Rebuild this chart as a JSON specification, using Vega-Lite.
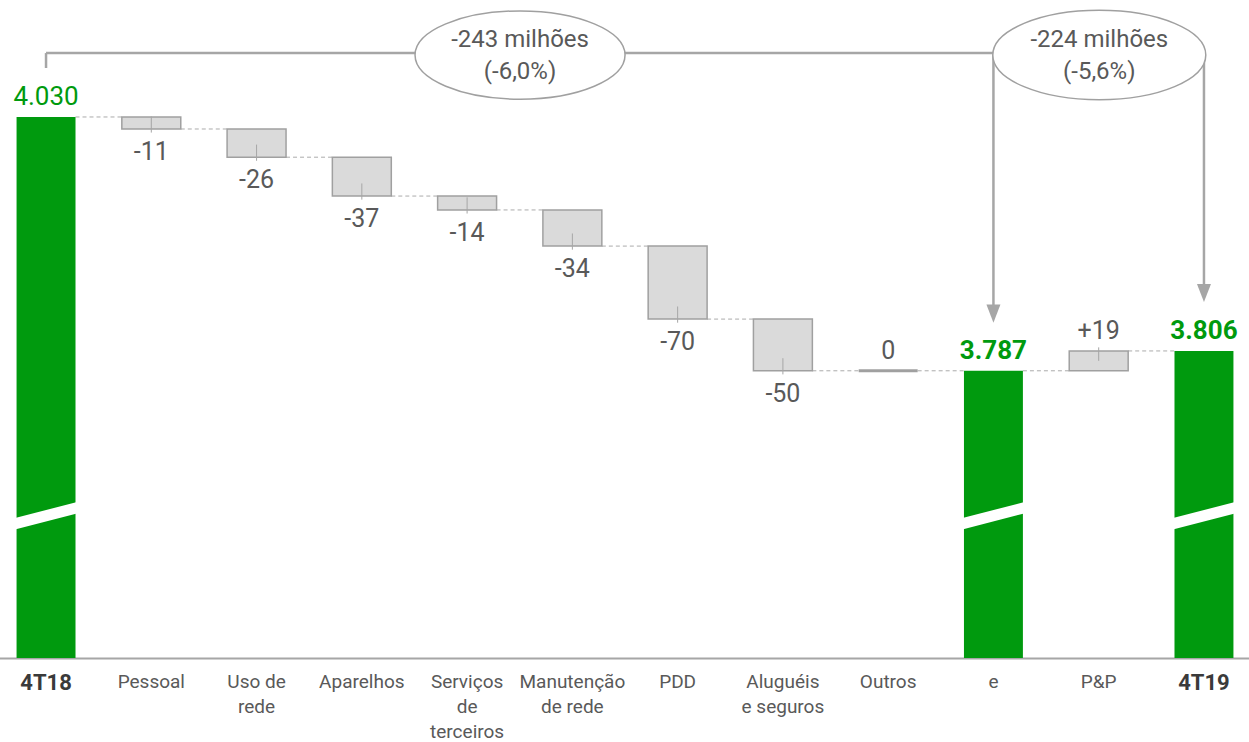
{
  "$schema": "https://vega.github.io/schema/vega-lite/v6.json",
  "width": 1249,
  "height": 742,
  "autosize": {"type": "none"},
  "padding": 0,
  "background": "white",
  "config": {"view": {"stroke": null}, "font": "Roboto"},
  "datasets": {
    "bars": [
      {"cat": "4T18", "kind": "total", "start": 4030, "end": 4030, "text": "4.030", "next": "Pessoal"},
      {"cat": "Pessoal", "kind": "delta", "start": 4030, "end": 4018.5, "text": "-11", "next": "Uso de rede"},
      {"cat": "Uso de rede", "kind": "delta", "start": 4018.5, "end": 3991.5, "text": "-26", "next": "Aparelhos"},
      {"cat": "Aparelhos", "kind": "delta", "start": 3991.5, "end": 3954.3, "text": "-37", "next": "Serviços de terceiros"},
      {"cat": "Serviços de terceiros", "kind": "delta", "start": 3954.3, "end": 3941, "text": "-14", "next": "Manutenção de rede"},
      {"cat": "Manutenção de rede", "kind": "delta", "start": 3941, "end": 3906.4, "text": "-34", "next": "PDD"},
      {"cat": "PDD", "kind": "delta", "start": 3906.4, "end": 3836.5, "text": "-70", "next": "Aluguéis e seguros"},
      {"cat": "Aluguéis e seguros", "kind": "delta", "start": 3836.5, "end": 3787, "text": "-50", "next": "Outros"},
      {"cat": "Outros", "kind": "delta", "start": 3787, "end": 3787, "text": "0", "next": "e"},
      {"cat": "e", "kind": "total", "start": 3787, "end": 3787, "text": "3.787", "next": "P&P"},
      {"cat": "P&P", "kind": "delta", "start": 3787, "end": 3806, "text": "+19", "next": "4T19"},
      {"cat": "4T19", "kind": "total", "start": 3806, "end": 3806, "text": "3.806", "next": null}
    ],
    "notes": [
      {"from": "4T18", "to": "e", "text": "-243 milhões\n(-6,0%)"},
      {"from": "4T18", "to": "4T19", "text": "-224 milhões\n(-5,6%)"}
    ]
  },
  "data": {"name": "bars"},
  "encoding": {
    "x": {
      "field": "cat",
      "type": "nominal",
      "scale": {
        "domain": ["4T18", "Pessoal", "Uso de rede", "Aparelhos", "Serviços de terceiros", "Manutenção de rede", "PDD", "Aluguéis e seguros", "Outros", "e", "P&P", "4T19"],
        "range": [-6.6, 1256.6],
        "paddingInner": 0.44,
        "paddingOuter": 0.22
      },
      "axis": {
        "title": null,
        "labelAngle": 0,
        "ticks": false,
        "grid": false,
        "domainColor": "#a6a6a6",
        "domainWidth": 2,
        "offset": -84,
        "labelPadding": 14,
        "labelFont": "Roboto",
        "labelLimit": 0,
        "labelOverlap": false,
        "labelLineHeight": 25,
        "labelFontSize": {"condition": {"test": "datum.value == '4T18' || datum.value == '4T19'", "value": 22}, "value": 19},
        "labelFontWeight": {"condition": {"test": "datum.value == '4T18' || datum.value == '4T19'", "value": "bold"}, "value": "normal"},
        "labelColor": {"condition": {"test": "datum.value == '4T18' || datum.value == '4T19'", "value": "#3a3a3a"}, "value": "#595959"},
        "labelExpr": "datum.value == 'Uso de rede' ? ['Uso de', 'rede'] : datum.value == 'Serviços de terceiros' ? ['Serviços', 'de', 'terceiros'] : datum.value == 'Manutenção de rede' ? ['Manutenção', 'de rede'] : datum.value == 'Aluguéis e seguros' ? ['Aluguéis', 'e seguros'] : datum.label"
      }
    }
  },
  "layer": [
    {
      "transform": [{"filter": "datum.next != null"}],
      "mark": {"type": "rule", "strokeDash": [4, 3], "color": "#ababab", "strokeWidth": 1},
      "encoding": {
        "x": {"field": "cat", "type": "nominal", "bandPosition": 1},
        "x2": {"field": "next", "bandPosition": 0},
        "y": {"field": "end", "type": "quantitative", "scale": {"domain": [3431.6, 4142], "nice": false, "zero": false}, "axis": null}
      }
    },
    {
      "transform": [{"filter": "datum.kind == 'total'"}],
      "mark": {"type": "bar", "color": "#009a0e"},
      "encoding": {
        "y": {"field": "end", "type": "quantitative", "scale": {"domain": [3431.6, 4142], "nice": false, "zero": false}, "axis": null},
        "y2": {"datum": 3512}
      }
    },
    {
      "transform": [{"filter": "datum.kind == 'delta' && datum.start != datum.end"}],
      "mark": {"type": "bar", "fill": "#dadada", "stroke": "#a0a0a0", "strokeWidth": 1.5},
      "encoding": {
        "y": {"field": "start", "type": "quantitative", "scale": {"domain": [3431.6, 4142], "nice": false, "zero": false}, "axis": null},
        "y2": {"field": "end"}
      }
    },
    {
      "transform": [{"filter": "datum.kind == 'delta' && datum.start == datum.end"}],
      "mark": {"type": "rule", "color": "#a0a0a0", "strokeWidth": 3},
      "encoding": {
        "x": {"field": "cat", "type": "nominal", "bandPosition": 0},
        "x2": {"field": "cat", "bandPosition": 1},
        "y": {"field": "end", "type": "quantitative", "axis": null}
      }
    },
    {
      "transform": [{"filter": "datum.kind == 'delta' && datum.end < datum.start"}],
      "mark": {"type": "point", "shape": "M0,-1.4L0,0.4", "size": 324, "filled": false, "stroke": "#a6a6a6", "strokeWidth": 1, "opacity": 1},
      "encoding": {
        "x": {"field": "cat", "type": "nominal", "bandPosition": 0.5},
        "y": {"field": "end", "type": "quantitative", "axis": null}
      }
    },
    {
      "transform": [{"filter": "datum.kind == 'delta' && datum.end > datum.start"}],
      "mark": {"type": "point", "shape": "M0,-0.4L0,1.1", "size": 324, "filled": false, "stroke": "#a6a6a6", "strokeWidth": 1, "opacity": 1},
      "encoding": {
        "x": {"field": "cat", "type": "nominal", "bandPosition": 0.5},
        "y": {"field": "end", "type": "quantitative", "axis": null}
      }
    },
    {
      "transform": [{"filter": "datum.kind == 'total'"}],
      "mark": {"type": "rule", "color": "white", "strokeWidth": 11},
      "encoding": {
        "x": {"field": "cat", "type": "nominal", "bandPosition": -0.1},
        "x2": {"field": "cat", "bandPosition": 1.1},
        "y": {"datum": 3639.5, "type": "quantitative", "axis": null},
        "y2": {"datum": 3657}
      }
    },
    {
      "transform": [{"filter": "datum.cat == '4T18'"}],
      "mark": {"type": "text", "fontSize": 26, "color": "#009a0e", "baseline": "alphabetic", "dy": -12},
      "encoding": {
        "y": {"field": "end", "type": "quantitative", "axis": null},
        "text": {"field": "text"}
      }
    },
    {
      "transform": [{"filter": "datum.kind == 'total' && datum.cat != '4T18'"}],
      "mark": {"type": "text", "fontSize": 26, "fontWeight": "bold", "color": "#009a0e", "baseline": "alphabetic", "dy": -12},
      "encoding": {
        "y": {"field": "end", "type": "quantitative", "axis": null},
        "text": {"field": "text"}
      }
    },
    {
      "transform": [{"filter": "datum.kind == 'delta' && datum.end < datum.start"}],
      "mark": {"type": "text", "fontSize": 25, "color": "#595959", "baseline": "alphabetic", "dy": 31},
      "encoding": {
        "y": {"field": "end", "type": "quantitative", "axis": null},
        "text": {"field": "text"}
      }
    },
    {
      "transform": [{"filter": "datum.kind == 'delta' && datum.end >= datum.start"}],
      "mark": {"type": "text", "fontSize": 25, "color": "#595959", "baseline": "alphabetic", "dy": -12},
      "encoding": {
        "y": {"field": "end", "type": "quantitative", "axis": null},
        "text": {"field": "text"}
      }
    },
    {
      "data": {"name": "notes"},
      "transform": [{"filter": "datum.to == '4T19'"}],
      "mark": {"type": "rule", "color": "#a6a6a6", "strokeWidth": 2.5},
      "encoding": {
        "x": {"field": "from", "type": "nominal", "bandPosition": 0.5},
        "x2": {"field": "to", "bandPosition": 0.5},
        "y": {"datum": 4091.2, "type": "quantitative", "axis": null}
      }
    },
    {
      "data": {"name": "notes"},
      "transform": [{"filter": "datum.to == '4T19'"}],
      "mark": {"type": "rule", "color": "#a6a6a6", "strokeWidth": 2.5},
      "encoding": {
        "x": {"field": "from", "type": "nominal", "bandPosition": 0.5},
        "y": {"datum": 4091.2, "type": "quantitative", "axis": null},
        "y2": {"datum": 4076.9}
      }
    },
    {
      "data": {"name": "notes"},
      "transform": [{"filter": "datum.to == 'e'"}],
      "mark": {"type": "rule", "color": "#a6a6a6", "strokeWidth": 2.5},
      "encoding": {
        "x": {"field": "to", "type": "nominal", "bandPosition": 0.5},
        "y": {"datum": 4091.2, "type": "quantitative", "axis": null},
        "y2": {"datum": 3841.8}
      }
    },
    {
      "data": {"name": "notes"},
      "transform": [{"filter": "datum.to == '4T19'"}],
      "mark": {"type": "rule", "color": "#a6a6a6", "strokeWidth": 2.5},
      "encoding": {
        "x": {"field": "to", "type": "nominal", "bandPosition": 0.5},
        "y": {"datum": 4091.2, "type": "quantitative", "axis": null},
        "y2": {"datum": 3861.5}
      }
    },
    {
      "data": {"name": "notes"},
      "transform": [{"filter": "datum.to == 'e'"}],
      "mark": {"type": "point", "shape": "M-1,-1.3L1,-1.3L0,1.3Z", "size": 196, "filled": true, "color": "#a6a6a6", "opacity": 1},
      "encoding": {
        "x": {"field": "to", "type": "nominal", "bandPosition": 0.5},
        "y": {"datum": 3841.8, "type": "quantitative", "axis": null}
      }
    },
    {
      "data": {"name": "notes"},
      "transform": [{"filter": "datum.to == '4T19'"}],
      "mark": {"type": "point", "shape": "M-1,-1.3L1,-1.3L0,1.3Z", "size": 196, "filled": true, "color": "#a6a6a6", "opacity": 1},
      "encoding": {
        "x": {"field": "to", "type": "nominal", "bandPosition": 0.5},
        "y": {"datum": 3861.5, "type": "quantitative", "axis": null}
      }
    },
    {
      "data": {"name": "notes"},
      "transform": [{"filter": "datum.to == 'e'"}],
      "mark": {"type": "point", "shape": "M-1,0A1,0.42,0,1,0,1,0A1,0.42,0,1,0,-1,0Z", "size": 44100, "filled": true, "fill": "white", "stroke": "#a0a0a0", "strokeWidth": 1.5, "opacity": 1},
      "encoding": {
        "x": {"datum": "Serviços de terceiros", "type": "nominal", "bandPosition": 1.398},
        "y": {"datum": 4089.3, "type": "quantitative", "axis": null}
      }
    },
    {
      "data": {"name": "notes"},
      "transform": [{"filter": "datum.to == '4T19'"}],
      "mark": {"type": "point", "shape": "M-1,0A1,0.42,0,1,0,1,0A1,0.42,0,1,0,-1,0Z", "size": 45369, "filled": true, "fill": "white", "stroke": "#a0a0a0", "strokeWidth": 1.5, "opacity": 1},
      "encoding": {
        "x": {"datum": "P&P", "type": "nominal", "bandPosition": 0.51},
        "y": {"datum": 4089.3, "type": "quantitative", "axis": null}
      }
    },
    {
      "data": {"name": "notes"},
      "transform": [{"filter": "datum.to == 'e'"}],
      "mark": {"type": "text", "fontSize": 24, "color": "#595959", "lineBreak": "\n", "lineHeight": 32, "baseline": "middle"},
      "encoding": {
        "x": {"datum": "Serviços de terceiros", "type": "nominal", "bandPosition": 1.398},
        "y": {"datum": 4103.7, "type": "quantitative", "axis": null},
        "text": {"field": "text"}
      }
    },
    {
      "data": {"name": "notes"},
      "transform": [{"filter": "datum.to == '4T19'"}],
      "mark": {"type": "text", "fontSize": 24, "color": "#595959", "lineBreak": "\n", "lineHeight": 32, "baseline": "middle"},
      "encoding": {
        "x": {"datum": "P&P", "type": "nominal", "bandPosition": 0.51},
        "y": {"datum": 4103.7, "type": "quantitative", "axis": null},
        "text": {"field": "text"}
      }
    }
  ]
}
